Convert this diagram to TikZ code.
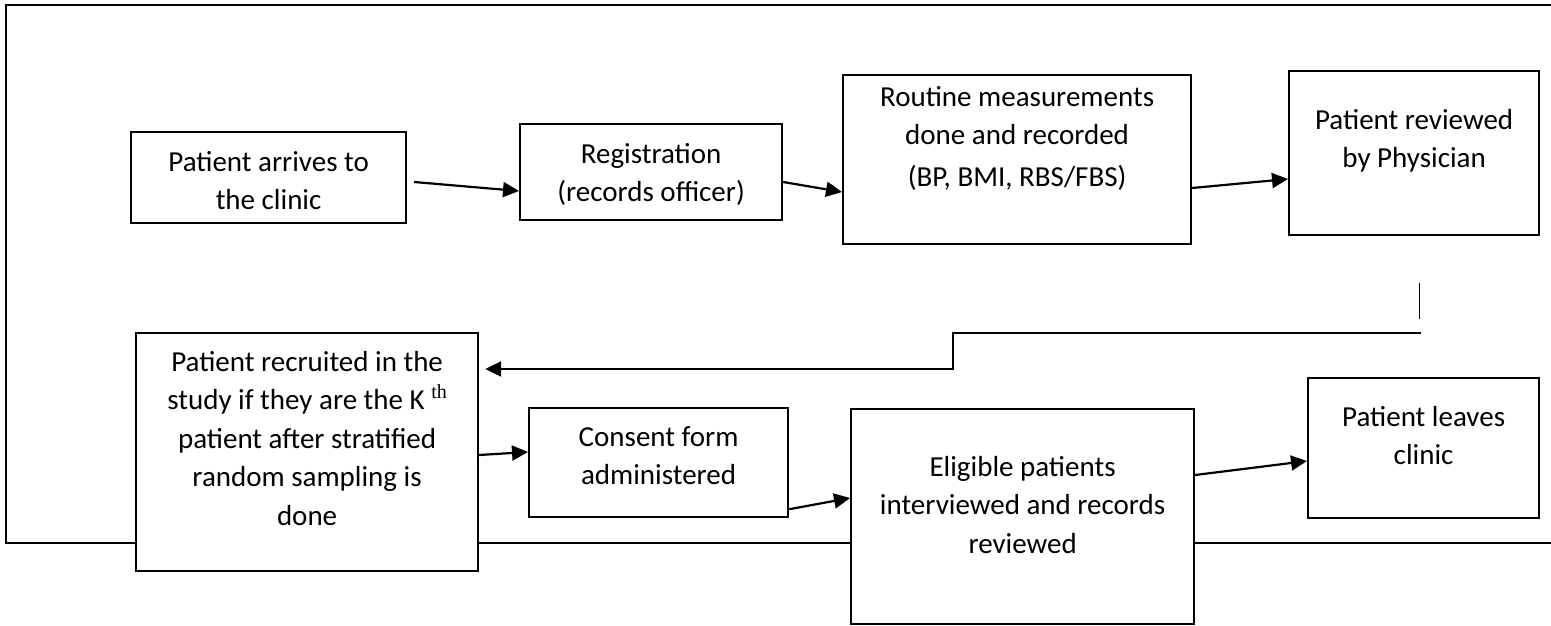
\documentclass[tikz,border=0pt]{standalone}
\usepackage{fontspec}
\setmainfont{Carlito}
\newfontfamily\thfont{Liberation Serif}
\usetikzlibrary{arrows.meta,calc}

\tikzset{
  flowbox/.style={draw, fill=white, line width=2.2pt, inner sep=0pt,
    anchor=north west, font=\fontsize{29}{38.5}\selectfont},
  flowarrow/.style={line width=2.2pt, -{Triangle[length=16pt,width=15pt]}}
}

\begin{document}
\begin{tikzpicture}[x=1pt,y=-1pt]
  \useasboundingbox (0,0) rectangle (1551,625);

  % Frame
  \draw[line width=2.2pt]
    (1551,5) -- (6,5) -- (6,543) -- (1551,543);

  % Top row
  \node[flowbox] (arrive) at (130,131)
    {\parbox[c][91pt][t]{275pt}{\centering\rule{0pt}{39pt}Patient arrives to\\the clinic}};

  \node[flowbox] (register) at (519,123)
    {\parbox[c][96pt][t]{262pt}{\centering\rule{0pt}{39pt}Registration\\(records officer)}};

  \node[flowbox] (measure) at (842,74)
    {\parbox[c][169pt][t]{348pt}{\centering\rule{0pt}{31pt}Routine measurements\\done and recorded\\[3.5pt](BP, BMI, RBS/FBS)}};

  \node[flowbox] (physician) at (1288,70)
    {\parbox[c][164pt][t]{250pt}{\centering\rule{0pt}{58pt}Patient reviewed\\by Physician}};

  % Bottom row
  \node[flowbox] (recruit) at (135,332)
    {\parbox[c][238pt][t]{342pt}{\centering\rule{0pt}{38pt}Patient recruited in the\\study if they are the K \raisebox{11pt}{\thfont\fontsize{20}{20}\selectfont th}\\patient after stratified\\random sampling is\\done}};

  \node[flowbox] (consent) at (528,407)
    {\parbox[c][109pt][t]{259pt}{\centering\rule{0pt}{38pt}Consent form\\administered}};

  \node[flowbox] (eligible) at (850,408)
    {\parbox[c][215pt][t]{343pt}{\centering\rule{0pt}{67pt}Eligible patients\\interviewed and records\\reviewed}};

  \node[flowbox] (leaves) at (1307,377)
    {\parbox[c][140pt][t]{231pt}{\centering\rule{0pt}{48pt}Patient leaves\\clinic}};

  % Arrows, top row
  \draw[flowarrow]
    ($(arrive.north east)+(7,51)$) -- ($(register.north west)+(0,68)$);
  \draw[flowarrow]
    ($(register.north east)+(0,59)$) -- ($(measure.north west)+(0,118)$);
  \draw[flowarrow]
    ($(measure.north east)+(0,114)$) -- ($(physician.north west)+(0,109)$);

  % Back to the bottom row
  \draw[line width=1.4pt]
    ($(physician.south east)+(-121,47)$) -- ++(0,36);
  \draw[flowarrow]
    ($(physician.south east)+(-119,97)$) -- ++(-468,0)
    |- ($(recruit.north east)+(6,37)$);

  % Arrows, bottom row
  \draw[flowarrow]
    ($(recruit.north east)+(0,123)$) -- ($(consent.north west)+(0,45)$);
  \draw[flowarrow]
    ($(consent.south east)+(0,-9)$) -- ($(eligible.north west)+(0,90)$);
  \draw[flowarrow]
    ($(eligible.north east)+(0,67)$) -- ($(leaves.north west)+(0,84)$);

\end{tikzpicture}
\end{document}
